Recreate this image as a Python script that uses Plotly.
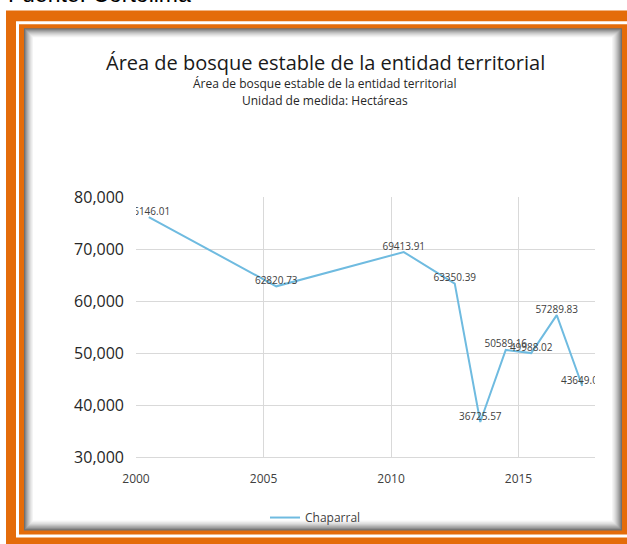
import plotly.graph_objects as go

# ---- data ----
years = [2000, 2005, 2010, 2012, 2013, 2014, 2015, 2016, 2017]
chaparral = [76146.01, 62820.73, 69413.91, 63350.39, 36725.57, 50589.16, 49988.02, 57289.83, 43649.04]
series_name = "Chaparral"
title_text = "Área de bosque estable de la entidad territorial"
subtitle_1 = "Área de bosque estable de la entidad territorial"
subtitle_2 = "Unidad de medida: Hectáreas"
source_text = "Fuente: Cortolima"

W, H = 627, 544
L, R, T, B = 136, 595, 197, 459

def px(x):
    return (x - L) / (R - L)

def py(y):
    return (B - y) / (B - T)

ORANGE = "#E46C0A"
FONT = "Open Sans"

fig = go.Figure()
fig.add_trace(go.Scatter(
    x=[f"{y}-01-01" for y in years],
    y=chaparral,
    xperiod="M12",
    xperiodalignment="middle",
    mode="lines+text",
    name=series_name,
    line=dict(color="#6FBBE0", width=2),
    text=[f"{v:.2f}" for v in chaparral],
    textposition="top center",
    textfont=dict(family=FONT, size=10, color="#404040"),
    cliponaxis=True,
))

shapes = []
def rect(x0, y0, x1, y1, fill):
    shapes.append(dict(type="rect", xref="paper", yref="paper",
                       x0=px(x0), x1=px(x1), y0=py(y1), y1=py(y0),
                       fillcolor=fill, line=dict(width=0), layer="below"))

rect(6, 9, 660, 580, ORANGE)
rect(16, 20, 660, 540, "#FFFFFF")
rect(19, 23, 660, 537, ORANGE)
# inset shadow
grays = ["#707070", "#888888", "#9c9c9c", "#afafaf", "#c0c0c0", "#d0d0d0", "#dedede", "#eaeaea", "#f4f4f4"]
for i, g in enumerate(grays):
    rect(24 + i, 27 + i, 622 - i * 1.1, 533 - i * 1.1, g)
rect(24 + len(grays), 27 + len(grays), 622 - len(grays) * 1.1, 533 - len(grays) * 1.1, "#FFFFFF")

annotations = [
    dict(text=source_text, x=px(6), y=py(8), xref="paper", yref="paper",
         xanchor="left", yanchor="bottom", showarrow=False,
         font=dict(family="Liberation Sans", size=23, color="#000000")),
    dict(text=title_text, x=px(325), y=py(61), xref="paper", yref="paper",
         xanchor="center", yanchor="middle", showarrow=False,
         font=dict(family=FONT, size=20, color="#1a1a1a")),
    dict(text=subtitle_1, x=px(325), y=py(83), xref="paper", yref="paper",
         xanchor="center", yanchor="middle", showarrow=False,
         font=dict(family=FONT, size=12, color="#262626")),
    dict(text=subtitle_2, x=px(325), y=py(100), xref="paper", yref="paper",
         xanchor="center", yanchor="middle", showarrow=False,
         font=dict(family=FONT, size=12, color="#262626")),
]

fig.update_layout(
    width=W, height=H,
    margin=dict(l=L, r=W - R, t=T, b=H - B, pad=0),
    paper_bgcolor="#FFFFFF",
    plot_bgcolor="rgba(0,0,0,0)",
    shapes=shapes,
    annotations=annotations,
    showlegend=True,
    legend=dict(orientation="h", x=px(265), xanchor="left", y=py(520), yanchor="middle",
                font=dict(family=FONT, size=12, color="#404040"), bgcolor="rgba(0,0,0,0)"),
    xaxis=dict(type="date", range=["2000-01-01", "2018-01-01"], dtick="M60", tick0="2000-01-01",
               tickformat="%Y", showgrid=True, gridcolor="#d9d9d9", gridwidth=1,
               showline=True, linecolor="#d9d9d9", linewidth=1, ticks="",
               tickfont=dict(family=FONT, size=12, color="#404040"), ticklabelstandoff=11,
               zeroline=False, fixedrange=True),
    yaxis=dict(range=[30000, 80000], dtick=10000, tick0=30000, tickformat=",",
               showgrid=True, gridcolor="#d9d9d9", gridwidth=1, showline=False, ticks="",
               tickfont=dict(family=FONT, size=16, color="#262626"), ticklabelstandoff=11,
               zeroline=False, fixedrange=True),
)

fig.write_html("out.html", config={"displayModeBar": False},
               post_script="document.body.style.margin='0';document.body.style.overflow='hidden';")
